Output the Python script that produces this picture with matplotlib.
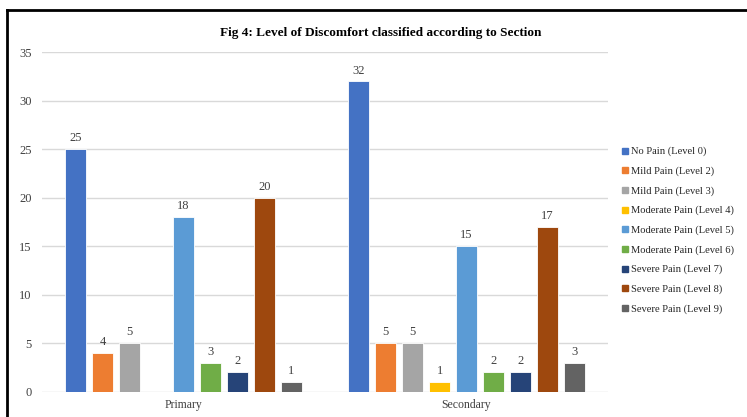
import matplotlib

matplotlib.use("Agg")

import matplotlib.pyplot as plt
import numpy as np
from matplotlib.lines import Line2D

plt.rcParams["font.family"] = ["Liberation Serif", "DejaVu Serif"]

sections = ["Primary", "Secondary"]
levels = [
    "No Pain (Level 0)",
    "Mild Pain (Level 2)",
    "Mild Pain (Level 3)",
    "Moderate Pain (Level 4)",
    "Moderate Pain (Level 5)",
    "Moderate Pain (Level 6)",
    "Severe Pain (Level 7)",
    "Severe Pain (Level 8)",
    "Severe Pain (Level 9)",
]
primary = [25, 4, 5, 0, 18, 3, 2, 20, 1]
secondary = [32, 5, 5, 1, 15, 2, 2, 17, 3]
colors = ["#4472C4", "#ED7D31", "#A5A5A5", "#FFC000", "#5B9BD5",
          "#70AD47", "#264478", "#9E480E", "#636363"]
y_ticks = [0, 5, 10, 15, 20, 25, 30, 35]

fig = plt.figure(figsize=(7.47, 4.17), dpi=100)
ax = fig.add_axes([0.0562, 0.0607, 0.7578, 0.8139])

x = np.arange(len(sections))
slot = 0.0951
width = 0.074
values = np.array([primary, secondary])
for i, (label, color) in enumerate(zip(levels, colors)):
    pos = x + (i - 4) * slot
    bars = ax.bar(pos, values[:, i], width, color=color, edgecolor="white",
                  linewidth=0.6, label=label, zorder=3)
    for rect, v in zip(bars, values[:, i]):
        if v > 0:
            ax.annotate(str(v), (rect.get_x() + rect.get_width() / 2, v),
                        xytext=(0, 3.5), textcoords="offset points",
                        ha="center", va="bottom", fontsize=9, color="#404040")

ax.set_xlim(-0.5, 1.5)
ax.set_ylim(0, 35)
ax.set_yticks(y_ticks)
ax.set_xticks(x)
ax.set_xticklabels(sections)
ax.tick_params(axis="both", length=0, labelcolor="#404040")
ax.tick_params(axis="y", pad=7.5, labelsize=9)
ax.tick_params(axis="x", pad=5, labelsize=8.5)
ax.grid(axis="y", color="#d9d9d9", linewidth=1, zorder=0)
for spine in ax.spines.values():
    spine.set_visible(False)

fig.text(0.509, 0.921, "Fig 4: Level of Discomfort classified according to Section",
         ha="center", va="center", fontsize=9.5, fontweight="bold", color="black")

handles = [Line2D([], [], marker="s", linestyle="none", markersize=4.5,
                  markerfacecolor=c, markeredgecolor=c) for c in colors]
fig.legend(handles, levels, loc="upper left", bbox_to_anchor=(0.827, 0.658),
           frameon=False, fontsize=7.6, handlelength=0.6, handletextpad=0.3,
           labelspacing=0.95, borderaxespad=0, labelcolor="#262626")

# frame edges visible at the top and left of the crop
fig.add_artist(Line2D([0.0094, 0.0094], [0, 0.976], color="black", linewidth=2,
                      transform=fig.transFigure))
fig.add_artist(Line2D([0.0094, 1.0], [0.976, 0.976], color="black", linewidth=2,
                      transform=fig.transFigure))

fig.savefig("out.png", dpi=100)
